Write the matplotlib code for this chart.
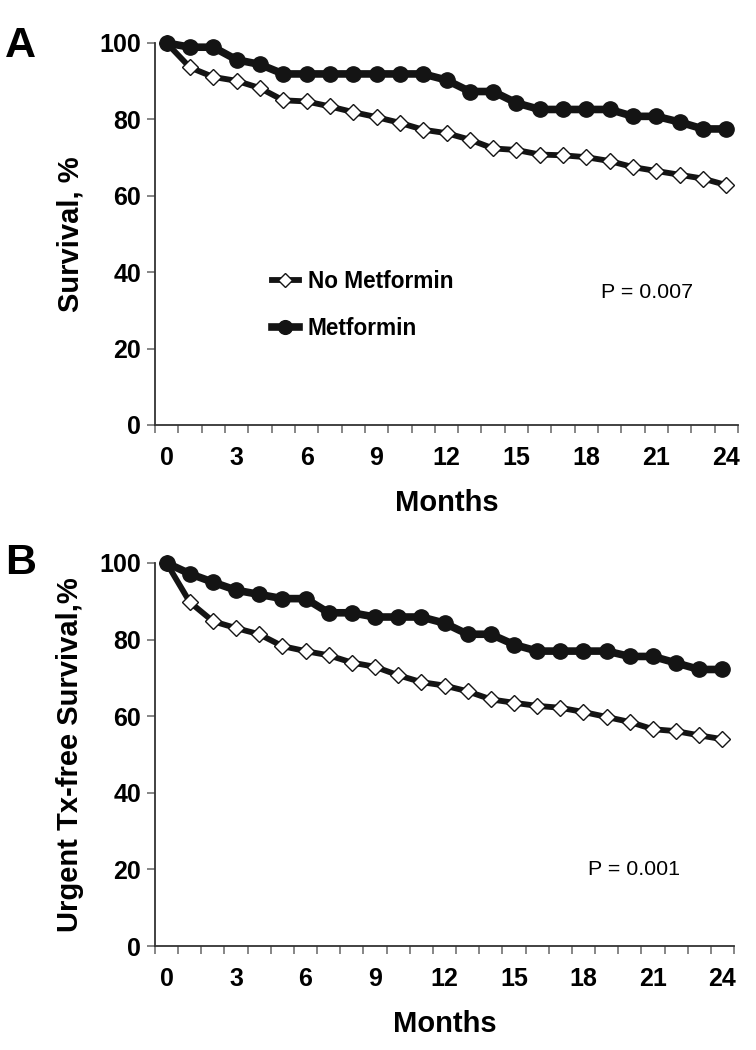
"""Metformin survival curves, panels A and B"""

import numpy as np
import matplotlib
matplotlib.use('Agg')
import matplotlib.pyplot as plt
from matplotlib.ticker import FixedLocator

plt.rcParams['font.family'] = ['Liberation Sans', 'DejaVu Sans']

# data

months = list(range(25))
month_labels = [0, 3, 6, 9, 12, 15, 18, 21, 24]

# panel A: overall survival, %
surv_no_met = [100, 93.6, 91.1, 90.1, 88.2, 85.0, 84.7, 83.4, 81.9, 80.6, 79.1, 77.3, 76.4,
               74.7, 72.4, 72.0, 70.8, 70.6, 70.1, 69.1, 67.5, 66.5, 65.5, 64.5, 62.8]
surv_met = [100, 98.9, 98.9, 95.6, 94.4, 91.9, 91.9, 91.9, 91.9, 91.9, 91.9, 91.9, 90.3,
            87.3, 87.3, 84.3, 82.6, 82.6, 82.6, 82.6, 80.8, 80.8, 79.3, 77.5, 77.5]

# panel B: urgent transplant-free survival, %
utx_no_met = [100, 89.8, 84.8, 83.0, 81.4, 78.3, 77.0, 75.9, 74.0, 72.9, 70.7, 68.9, 68.0,
              66.5, 64.4, 63.5, 62.7, 62.2, 61.1, 59.8, 58.5, 56.6, 56.1, 55.0, 54.0]
utx_met = [100, 97.2, 95.0, 92.9, 91.8, 90.7, 90.7, 87.0, 87.0, 85.9, 85.9, 85.9, 84.3,
           81.4, 81.4, 78.7, 77.0, 77.0, 77.0, 77.0, 75.6, 75.6, 73.9, 72.2, 72.2]

W, H = 756, 1050
fig = plt.figure(figsize=(W / 100, H / 100), dpi=100)

ink = '#141414'
spine = '#333333'


def make_axes(left, top, right, bottom):
    return fig.add_axes([left / W, 1 - bottom / H, (right - left) / W, (bottom - top) / H])


def style_axes(ax, ylabel):
    ax.set_xlim(-0.5, 24.5)
    ax.set_ylim(0, 100)
    for s in ['top', 'right']:
        ax.spines[s].set_visible(False)
    for s in ['left', 'bottom']:
        ax.spines[s].set_color(spine)
        ax.spines[s].set_linewidth(1.3)
    ax.set_xticks(month_labels)
    ax.set_xticklabels([str(m) for m in month_labels], fontsize=18, fontweight='bold')
    ax.xaxis.set_minor_locator(FixedLocator(np.arange(-0.5, 25, 1)))
    ax.tick_params(axis='x', which='major', length=0, pad=15)
    ax.tick_params(axis='x', which='minor', length=6, width=1.1, color='#666666', direction='out')
    ax.set_yticks([0, 20, 40, 60, 80, 100])
    ax.set_yticklabels(['0', '20', '40', '60', '80', '100'], fontsize=18, fontweight='bold')
    ax.tick_params(axis='y', length=6, width=1.1, color='#666666', direction='out', pad=4)
    ax.set_xlabel('Months', fontsize=21, fontweight='bold', labelpad=14)
    ax.set_ylabel(ylabel, fontsize=21, fontweight='bold', labelpad=11)


def draw_curves(ax, no_met, met):
    l1, = ax.plot(months, no_met, color=ink, lw=4.2, marker='D', ms=7.8,
                  mfc='white', mec=ink, mew=1.0, clip_on=False, zorder=3,
                  label='No Metformin')
    l2, = ax.plot(months, met, color=ink, lw=5.5, marker='o', ms=11,
                  mfc=ink, mec=ink, clip_on=False, zorder=4, label='Metformin')
    return l1, l2


# panel A
ax1 = make_axes(155, 43, 738, 425)
h1, h2 = draw_curves(ax1, surv_no_met, surv_met)
style_axes(ax1, 'Survival, %')
ax1.legend(handles=[h1, h2], loc='upper left', bbox_to_anchor=(0.2, 0.405),
           frameon=False, prop={'size': 16.3, 'weight': 'bold'}, handlelength=1.2,
           handletextpad=0.4, labelspacing=1.05, borderpad=0, borderaxespad=0,
           numpoints=1, markerscale=0.9)
ax1.text(20.6, 34.8, 'P = 0.007', fontsize=15.4, ha='center', va='center')
fig.text(5 / W, 1 - 46 / H, 'A', fontsize=31, fontweight='bold', va='center', ha='left')

# panel B
ax2 = make_axes(155, 563, 734, 946)
draw_curves(ax2, utx_no_met, utx_met)
style_axes(ax2, 'Urgent Tx-free Survival,%')
ax2.text(20.2, 20, 'P = 0.001', fontsize=15.4, ha='center', va='center')
fig.text(5 / W, 1 - 563 / H, 'B', fontsize=31, fontweight='bold', va='center', ha='left')

plt.savefig('out.png', dpi=100)
plt.close()
